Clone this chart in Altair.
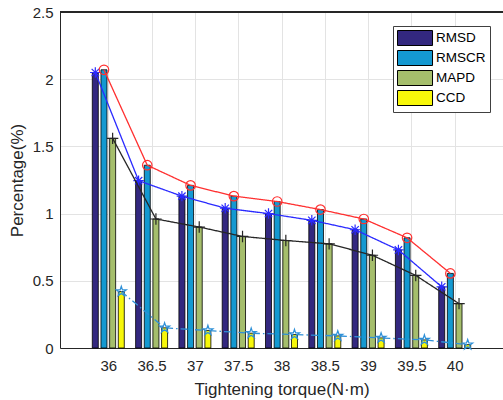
import altair as alt
import pandas as pd

# Tightening torque levels (N·m) and the four error measures (%)
torque = [36, 36.5, 37, 37.5, 38, 38.5, 39, 39.5, 40]
rmsd = [2.05, 1.245, 1.13, 1.04, 1.00, 0.95, 0.88, 0.73, 0.455]
rmscr = [2.07, 1.36, 1.21, 1.13, 1.09, 1.03, 0.96, 0.82, 0.555]
mapd = [1.56, 0.96, 0.90, 0.83, 0.80, 0.775, 0.69, 0.54, 0.33]
ccd = [0.42, 0.15, 0.13, 0.11, 0.10, 0.09, 0.075, 0.06, 0.025]

series = ["RMSD", "RMSCR", "MAPD", "CCD"]
bar_colors = ["#33287f", "#1499d1", "#a5be6c", "#f7f70a"]
# horizontal shift of each bar inside its torque group (in torque units)
shift = {"RMSD": -0.15, "RMSCR": -0.05, "MAPD": 0.05, "CCD": 0.15}

rows = []
for name, vals in zip(series, [rmsd, rmscr, mapd, ccd]):
    for t, v in zip(torque, vals):
        rows.append({"torque": t, "series": name, "value": v, "pos": t + shift[name]})
df = pd.DataFrame(rows)

FONT = "Liberation Sans"
TXT = "#262626"

x_enc = alt.X(
    "pos:Q",
    scale=alt.Scale(domain=[35.5, 40.5], nice=False, zero=False),
    axis=alt.Axis(
        values=torque, format="~g", title="Tightening torque(N·m)",
        labelPadding=10, titlePadding=8,
    ),
)
y_enc = alt.Y(
    "value:Q",
    scale=alt.Scale(domain=[0, 2.5], nice=False),
    axis=alt.Axis(values=[0, 0.5, 1, 1.5, 2, 2.5], format="~g",
                  title="Percentage(%)", labelPadding=7, titlePadding=6),
)

base = alt.Chart(df)

# wide flat patch used as the legend swatch (35 x 15 px at size 225),
# extending to the right of the symbol anchor
PATCH = "M-1,-1L3.67,-1L3.67,1L-1,1Z"

bars = base.mark_bar(width=6, stroke="black", strokeWidth=0.8).encode(
    x=x_enc,
    y=y_enc,
    color=alt.Color(
        "series:N",
        scale=alt.Scale(domain=series, range=bar_colors),
        legend=alt.Legend(
            title=None, orient="none", legendX=333, legendY=14,
            direction="vertical",
            symbolType=PATCH,
            symbolSize=225, symbolStrokeColor="black", symbolStrokeWidth=1,
            symbolOpacity=1, labelFontSize=13.5, labelFont=FONT, labelColor="#000000",
            labelOffset=23, padding=4, rowPadding=0,
            strokeColor="#404040", fillColor="white",
        ),
    ),
)

STAR = ("M0,-1L0.2245,-0.309L0.951,-0.309L0.363,0.118L0.588,0.809L0,0.382"
        "L-0.588,0.809L-0.363,0.118L-0.951,-0.309L-0.2245,-0.309Z")
ASTERISK = "M0,-1L0,1M-1,0L1,0M-0.7,-0.7L0.7,0.7M-0.7,0.7L0.7,-0.7"
PLUS = "M0,-1L0,1M-1,0L1,0"

line_styles = {
    "RMSD": dict(color="#2a2aff", shape=ASTERISK, size=110, dash=[1, 0]),
    "RMSCR": dict(color="#ff3030", shape="circle", size=90, dash=[1, 0]),
    "MAPD": dict(color="#262626", shape=PLUS, size=130, dash=[1, 0]),
    "CCD": dict(color="#2e90d8", shape=STAR, size=110, dash=[7, 3, 1.5, 3]),
}

layers = [bars]
for name in series:
    st = line_styles[name]
    sub = base.transform_filter(alt.datum.series == name)
    layers.append(
        sub.mark_line(color=st["color"], strokeWidth=1.3, strokeDash=st["dash"]).encode(
            x="pos:Q", y="value:Q")
    )
    layers.append(
        sub.mark_point(shape=st["shape"], size=st["size"], filled=False,
                       color=st["color"], strokeWidth=1.2, opacity=1).encode(
            x="pos:Q", y="value:Q")
    )

# upper frame line of the axes box
top_line = alt.Chart(df).mark_rule(color=TXT, strokeWidth=1).encode(y=alt.datum(2.5))
layers.append(top_line)

chart = (
    alt.layer(*layers)
    .properties(
        width=443, height=336,
        padding={"left": 60, "top": 12, "right": 0, "bottom": 52},
        autosize=alt.AutoSizeParams(type="none"),
    )
    .configure_view(strokeWidth=0)
    .configure_axis(
        labelFont=FONT, titleFont=FONT, labelFontSize=15, titleFontSize=17,
        labelColor=TXT, titleColor=TXT, titleFontWeight="normal",
        domainColor=TXT, domainWidth=1, ticks=False,
        gridColor="#e3e3e3", gridWidth=1,
    )
)

chart.save("out.html", embed_options={"renderer": "svg", "actions": False})
